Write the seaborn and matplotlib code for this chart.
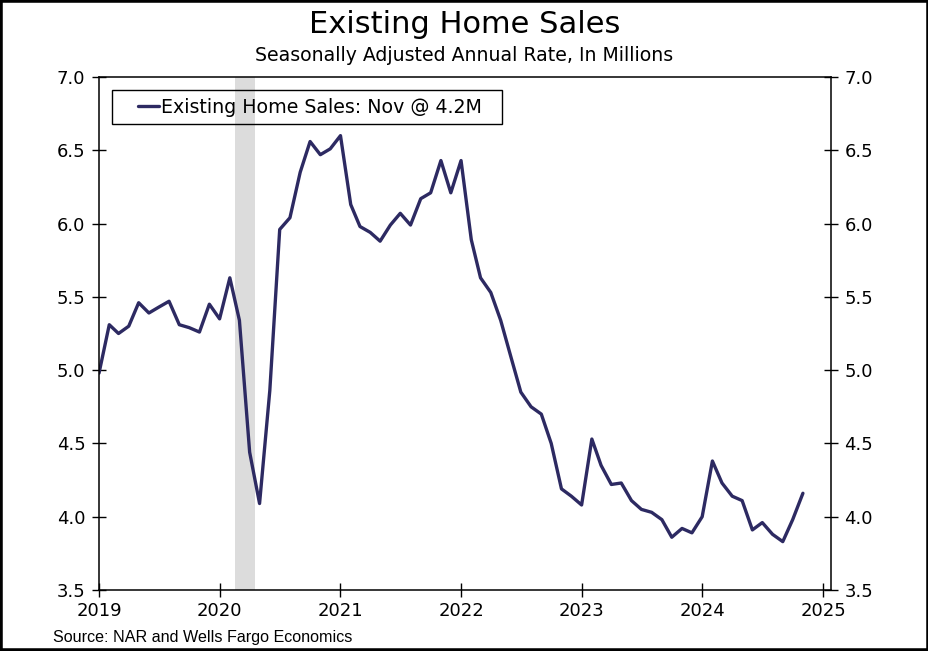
import pandas as pd
import matplotlib.pyplot as plt
import matplotlib.dates as mdates
from matplotlib.patches import Rectangle
import seaborn as sns

# monthly existing home sales, SAAR in millions, Jan 2019 - Nov 2024
sales_2019 = [4.98, 5.31, 5.25, 5.30, 5.46, 5.39, 5.43, 5.47, 5.31, 5.29, 5.26, 5.45]
sales_2020 = [5.35, 5.63, 5.34, 4.44, 4.09, 4.86, 5.96, 6.04, 6.35, 6.56, 6.47, 6.51]
sales_2021 = [6.60, 6.13, 5.98, 5.94, 5.88, 5.99, 6.07, 5.99, 6.17, 6.21, 6.43, 6.21]
sales_2022 = [6.43, 5.89, 5.63, 5.53, 5.34, 5.09, 4.85, 4.75, 4.70, 4.50, 4.19, 4.14]
sales_2023 = [4.08, 4.53, 4.35, 4.22, 4.23, 4.11, 4.05, 4.03, 3.98, 3.86, 3.92, 3.89]
sales_2024 = [4.00, 4.38, 4.23, 4.14, 4.11, 3.91, 3.96, 3.88, 3.83, 3.98, 4.16]

start_month = '2019-01-01'
recession = ('2020-02-18', '2020-04-18')
series_label = 'Existing Home Sales: Nov @ 4.2M'
y_ticks = [3.5, 4.0, 4.5, 5.0, 5.5, 6.0, 6.5, 7.0]

values = sales_2019 + sales_2020 + sales_2021 + sales_2022 + sales_2023 + sales_2024
df = pd.DataFrame({
    'date': pd.date_range(start_month, periods=len(values), freq='MS'),
    'sales': values,
})

sns.set_style('white')
plt.rcParams['font.family'] = ['DejaVu Sans']
plt.rcParams['text.color'] = 'black'

fig = plt.figure(figsize=(9.29, 6.51), dpi=100)
ax = fig.add_axes([0.1066, 0.0937, 0.7879, 0.788])

ax.axvspan(pd.Timestamp(recession[0]), pd.Timestamp(recession[1]),
           color='#dcdcdc', lw=0, zorder=0)
sns.lineplot(data=df, x='date', y='sales', ax=ax, color='#2d2a62',
             linewidth=2.4, label=series_label)

ax.set_xlim(pd.Timestamp('2019-01-01'), pd.Timestamp('2025-01-25'))
ax.set_ylim(3.5, 7.0)
ax.set_yticks(y_ticks)
ax.set_yticklabels([f'{v:.1f}' for v in y_ticks])
ax.xaxis.set_major_locator(mdates.YearLocator())
ax.xaxis.set_major_formatter(mdates.DateFormatter('%Y'))
ax.set_xlabel('')
ax.set_ylabel('')

for side in ['left', 'right', 'top', 'bottom']:
    ax.spines[side].set_visible(True)
    ax.spines[side].set_color('black')
    ax.spines[side].set_linewidth(1.1)

ax.tick_params(axis='both', which='major', direction='inout', length=9.5,
               width=1.0, color='black', labelsize=13, labelcolor='black')
ax.tick_params(axis='y', left=True, right=True, labelleft=True, labelright=True, pad=5)
ax.tick_params(axis='x', bottom=True, pad=4)

# legend without its own frame, box drawn separately to get the wide left padding
ax.legend(loc='center left', bbox_to_anchor=(0.053, 0.9415), fontsize=13.7,
          frameon=False, handlelength=1.1, handletextpad=0.1,
          borderpad=0, borderaxespad=0)
ax.add_patch(Rectangle((0.0178, 0.9084), 0.5327, 0.0663, transform=ax.transAxes,
                       fill=False, edgecolor='black', linewidth=1.0, zorder=5))

fig.text(0.5, 0.962, 'Existing Home Sales', ha='center', va='center', fontsize=22)
fig.text(0.5, 0.915, 'Seasonally Adjusted Annual Rate, In Millions',
         ha='center', va='center', fontsize=13.6)
fig.text(0.057, 0.02, 'Source: NAR and Wells Fargo Economics', ha='left',
         va='center', fontsize=11.6, family=['Liberation Sans'])

fig.patches.append(Rectangle((0, 0), 1, 1, transform=fig.transFigure,
                             fill=False, edgecolor='black', linewidth=4))

fig.savefig('out.png', dpi=100)
